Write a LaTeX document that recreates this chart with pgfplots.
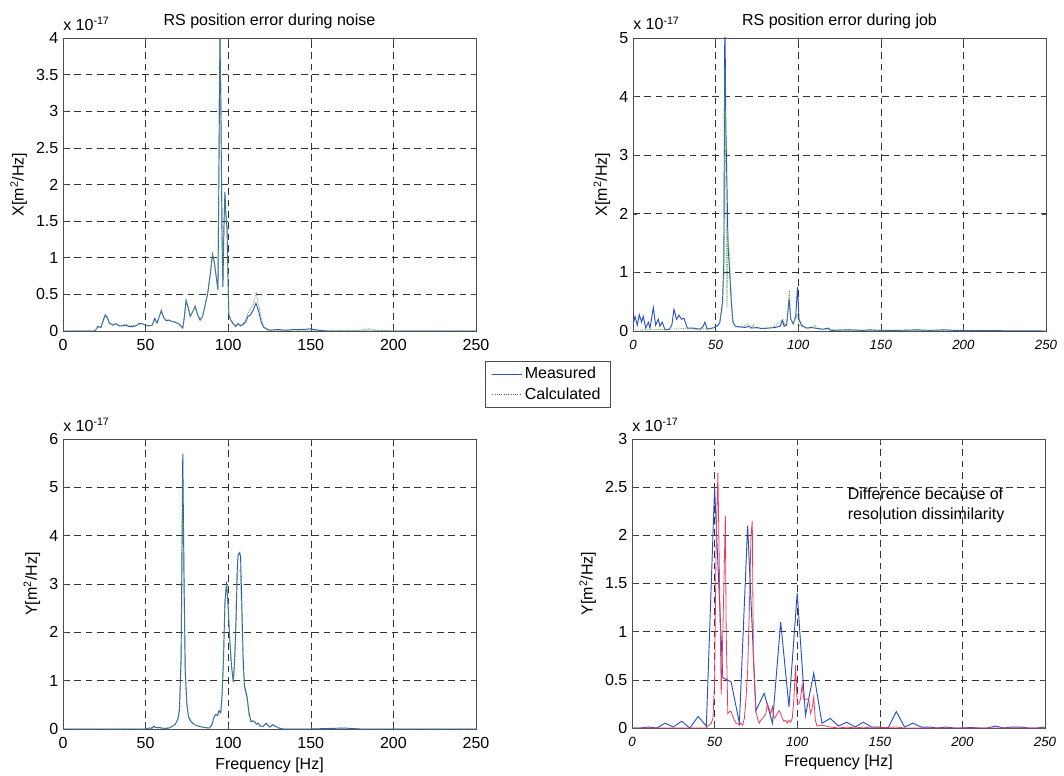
\documentclass[border=0pt]{standalone}
\usepackage{pgfplots}
\pgfplotsset{compat=1.18}
\usepackage{fontspec}
\setmainfont{Liberation Sans}

\definecolor{mblue}{RGB}{40,80,200}
\definecolor{cgreen}{RGB}{90,170,70}
\definecolor{cred}{RGB}{235,60,90}

\pgfplotsset{
  panel/.style={
    scale only axis,
    width=309.75pt,
    xmin=0, xmax=250,
    xtick={0,50,...,250},
    scaled ticks=false,
    /pgf/number format/assume math mode=true,
    grid=major,
    grid style={black!80, line width=0.45pt, dash pattern=on 5pt off 3.5pt},
    axis line style={black!70, line width=0.5pt},
    tick align=inside,
    major tick length=3pt,
    every tick/.style={black!70},
    xticklabel style={yshift=-3pt},
    title style={yshift=-3pt},
  },
  meas/.style={mblue, line width=0.7pt, forget plot},
  calc/.style={cgreen, line width=0.7pt, densely dotted, forget plot},
  calcr/.style={cred, line width=0.6pt, forget plot},
  exponent/.style={extra description/.code={
    \node[anchor=base west, inner sep=0pt] at ([yshift=6pt]0,1) {x 10\textsuperscript{-17}};}},
}

\begin{document}
\begin{tikzpicture}[font=\fontsize{12}{15}\selectfont]
\useasboundingbox (0,0) rectangle (798pt,581.25pt);

% top left: noise, X
\begin{axis}[panel, exponent,
  at={(47.25pt,333pt)}, anchor=south west,
  height=219.75pt,
  ymin=0, ymax=4, ytick={0,0.5,...,4},
  title={RS position error during noise},
  ylabel={X[m\textsuperscript{2}/Hz]},
  legend style={at={(1.0218,-0.1024)}, anchor=north west, draw=black!70,
    inner xsep=5pt, inner ysep=2.5pt, row sep=1pt, font=\fontsize{12}{14}\selectfont},
  legend cell align=left,
  legend image code/.code={\draw[#1] (0pt,0pt) -- (22pt,0pt);},
]
\addplot[meas] coordinates {
 (0,0) (19,0) (20,0.02) (21,0.06) (23,0.05) (24,0.12) (25.5,0.22) (27,0.18) (28,0.11)
 (30,0.08) (32,0.1) (34,0.07) (36,0.07) (38,0.08) (40,0.06) (42,0.06) (44,0.07) (46,0.1)
 (48,0.1) (50,0.08) (52,0.07) (54,0.08) (55.5,0.17) (57,0.11) (58,0.18) (59.5,0.28)
 (61,0.18) (62.5,0.14) (64,0.15) (66,0.13) (68,0.12) (70,0.1) (72.5,0.04) (73.5,0.2)
 (74.5,0.42) (76,0.3) (77,0.2) (78.5,0.26) (80,0.34) (81.5,0.22) (83,0.15) (84.5,0.2)
 (86,0.35) (87.5,0.5) (89,0.75) (90.5,1.05) (91.5,0.95) (93,0.7) (93.8,0.56) (94.5,2.5)
 (95,4.1) (95.6,3.0) (96.3,1.2) (96.8,0.6) (97.4,1.4) (98,1.9) (98.6,1.6) (99.3,1.4)
 (99.8,0.8) (100.4,0.22) (101.5,0.15) (103,0.1) (104.5,0.06) (106,0.1) (107.5,0.07)
 (109,0.09) (110.5,0.12) (112,0.2) (113.5,0.22) (115,0.28) (116.8,0.38) (118,0.3)
 (119,0.22) (120,0.12) (121.5,0.05) (123,0.03) (125,0.01) (130,0.02) (135,0.01)
 (140,0.02) (145,0.02) (150,0.03) (152,0.02) (155,0.01) (160,0) (250,0)
};
\addplot[calc] coordinates {
 (0,0) (19,0) (20,0.02) (21,0.05) (23,0.06) (24,0.12) (25.5,0.2) (27,0.17) (28,0.1)
 (30,0.09) (32,0.1) (34,0.08) (36,0.08) (38,0.09) (40,0.08) (42,0.07) (44,0.08) (46,0.09)
 (48,0.1) (50,0.08) (52,0.07) (54,0.08) (55.5,0.14) (57,0.12) (58,0.18) (59.5,0.26)
 (61,0.18) (62.5,0.15) (64,0.15) (66,0.13) (68,0.12) (70,0.1) (72.5,0.05) (73.5,0.2)
 (74.5,0.4) (76,0.3) (77,0.21) (78.5,0.26) (80,0.33) (81.5,0.22) (83,0.15) (84.5,0.2)
 (86,0.35) (87.5,0.5) (89,0.75) (90.5,1.03) (91.5,0.95) (93,0.7) (93.8,0.56) (94.4,2.6)
 (94.9,4.2) (95.6,3.2) (96.3,1.3) (96.8,0.6) (97.4,1.4) (98,1.85) (98.6,1.6) (99.3,1.4)
 (99.8,0.8) (100.4,0.22) (101.5,0.15) (103,0.1) (104.5,0.07) (106,0.1) (107.5,0.08)
 (109,0.1) (110.5,0.15) (112,0.25) (113.5,0.3) (115,0.36) (117,0.53) (118,0.4)
 (119,0.3) (120,0.15) (122,0.05) (124,0.02) (126,0.01) (140,0.01) (160,0.01)
 (180,0.01) (185,0.03) (190,0.01) (200,0) (250,0)
};
\addlegendimage{mblue, line width=0.6pt}
\addlegendentry{Measured}
\addlegendimage{black!65, line width=0.7pt, densely dotted}
\addlegendentry{Calculated\hspace{7pt}}
\end{axis}

% top right: job, X
\begin{axis}[panel, exponent,
  at={(474.75pt,333pt)}, anchor=south west,
  height=219.75pt,
  ymin=0, ymax=5, ytick={0,1,...,5},
  xticklabel style={font=\itshape},
  title={RS position error during job},
  ylabel={X[m\textsuperscript{2}/Hz]},
]
\addplot[meas] coordinates {
 (0,0.1) (1.2,0.25) (2.6,0.1) (3.8,0.28) (5.2,0.15) (6.2,0.25) (7.7,0.05) (9.3,0.15)
 (10.3,0.05) (12.3,0.4) (13.7,0.1) (15.3,0.2) (16.3,0.08) (17.7,0.15) (19.4,0.02)
 (22,0.03) (23.5,0.1) (24.8,0.37) (26.4,0.2) (27.8,0.27) (29.4,0.2) (30.8,0.22)
 (32.9,0.05) (36.5,0.05) (40.5,0.03) (42.5,0.08) (43.5,0.15) (45,0.03) (49.6,0.06)
 (51.5,0.1) (52.6,0.15) (54.2,0.5) (55,1.2) (55.6,5.5) (56.2,3.5) (56.8,2.6) (57.5,1.5)
 (58.5,1.0) (59.5,0.5) (60.5,0.15) (62,0.08) (65,0.07) (68,0.06) (70,0.08) (72,0.05)
 (75,0.06) (78,0.04) (82,0.05) (86,0.06) (89,0.08) (90.5,0.18) (91.5,0.08) (93,0.1)
 (94.5,0.55) (95.5,0.2) (97,0.12) (98.5,0.25) (99.6,0.75) (100.5,0.2) (102,0.1)
 (105,0.05) (108,0.06) (110,0.05) (115,0.03) (118,0.05) (120,0.01) (130,0.02)
 (140,0.01) (143,0.02) (150,0.01) (160,0.01) (172,0.02) (180,0.01) (188,0.02)
 (195,0.01) (250,0)
};
\addplot[calc] coordinates {
 (0,0.02) (10,0.02) (20,0.03) (30,0.04) (40,0.03) (48,0.05) (52,0.1) (54,0.4) (55,1.0)
 (55.6,4.5) (56.4,2.0) (56.9,0.4) (57.4,1.6) (58.3,1.3) (59.3,0.7) (60.3,0.2) (61.5,0.08)
 (65,0.06) (70,0.12) (71,0.05) (73,0.1) (74,0.05) (80,0.05) (85,0.06) (90.5,0.2)
 (92,0.1) (93.5,0.2) (94.6,0.7) (95.5,0.2) (97,0.15) (98.5,0.2) (99.5,0.3) (100.5,0.1)
 (105,0.05) (108,0.05) (110,0.1) (112,0.03) (120,0.02) (130,0.01) (250,0)
};
\end{axis}

% bottom left: noise, Y
\begin{axis}[panel, exponent,
  at={(47.25pt,34.5pt)}, anchor=south west,
  height=217.5pt,
  ymin=0, ymax=6, ytick={0,1,...,6},
  xlabel={Frequency [Hz]},
  ylabel={Y[m\textsuperscript{2}/Hz]},
]
\addplot[meas] coordinates {
 (0,0) (50,0) (52,0.02) (54,0.02) (55,0.06) (56,0.03) (58,0.03) (60,0.02) (62,0.01)
 (64,0.02) (66,0.05) (68,0.1) (69.5,0.2) (70.5,0.4) (71.5,1.5) (72.5,5.7) (73.3,3.0)
 (74,1.2) (75,0.5) (76,0.25) (77.5,0.15) (80,0.08) (83,0.05) (86,0.03) (88.5,0.02)
 (90,0.08) (91.5,0.25) (92.5,0.3) (93.5,0.28) (94.5,0.38) (95.5,0.33) (96.3,0.7)
 (97.2,1.5) (98,2.6) (99,3.05) (100,2.5) (101,1.8) (102,1.3) (103.1,0.97) (104,1.5)
 (104.7,2.2) (105.5,3.3) (106,3.6) (107,3.65) (107.5,3.55) (108.3,2.5) (109,1.5)
 (109.8,0.9) (110.5,0.8) (111.5,0.65) (112.5,0.35) (113.8,0.15) (115,0.17) (116,0.15)
 (117,0.1) (118,0.12) (119.5,0.06) (121,0.05) (123,0.12) (124,0.08) (125.2,0.04)
 (127,0.09) (128.5,0.06) (130.5,0.02) (133.5,0) (150,0) (160,0.01) (170,0.02)
 (175,0.01) (180,0) (250,0)
};
\addplot[calc] coordinates {
 (0,0) (50,0) (52,0.01) (55,0.04) (58,0.02) (62,0.01) (66,0.05) (68,0.1) (69.5,0.2)
 (70.5,0.4) (71.5,1.4) (72.5,5.2) (73.3,2.8) (74,1.1) (75,0.5) (76,0.25) (77.5,0.15)
 (80,0.08) (83,0.05) (86,0.03) (88.5,0.02) (90,0.08) (91.5,0.25) (92.5,0.3) (93.5,0.28)
 (94.5,0.36) (95.5,0.33) (96.3,0.7) (97.2,1.5) (98,2.6) (99,3.0) (100,2.5) (101,1.8)
 (102,1.3) (103.1,0.97) (104,1.5) (104.5,2.0) (105.2,3.2) (106,3.25) (107.3,3.3)
 (108.2,2.3) (109,1.3) (109.8,0.85) (110.5,0.75) (111.5,0.6) (112.5,0.3) (113.8,0.15)
 (115,0.16) (116,0.14) (117,0.1) (118,0.1) (119.5,0.05) (121,0.05) (123,0.1) (124,0.07)
 (125.2,0.04) (127,0.07) (128.5,0.05) (130.5,0.02) (133.5,0) (250,0)
};
\end{axis}

% bottom right: job, Y
\begin{axis}[panel, exponent,
  at={(474pt,35.25pt)}, anchor=south west,
  height=216.75pt,
  ymin=0, ymax=3, ytick={0,0.5,...,3},
  xticklabel style={font=\itshape},
  xlabel={Frequency [Hz]},
  ylabel={Y[m\textsuperscript{2}/Hz]},
]
\addplot[meas] coordinates {
 (0,0) (5,0) (10,0.01) (15,0) (20,0.05) (25,0.01) (30,0.07) (35,0) (40,0.12) (45,0.02)
 (50,2.5) (51,2.1) (55,0.52) (60,0.48) (65,0.05) (70,2.1) (75,0.18) (80,0.36) (85,0.05)
 (90,1.1) (95,0.22) (100,1.4) (105,0.13) (110,0.57) (115,0.05) (120,0.1) (125,0.02)
 (130,0.06) (135,0.01) (140,0.06) (145,0.01) (150,0.01) (155,0) (160,0.17) (165,0.01)
 (170,0.05) (175,0.01) (180,0.01) (185,0) (190,0.01) (195,0) (200,0) (205,0.005)
 (210,0) (215,0) (220,0.02) (225,0) (230,0.01) (235,0.01) (240,0) (245,0) (250,0.01)
};
\addplot[calcr] coordinates {
 (0,0) (45,0) (46,0.02) (48,0.05) (49,0.1) (50,0.5) (51,2.0) (52,2.65) (53,1.5)
 (54,0.35) (55,1.0) (56.5,2.2) (57,1.0) (58,0.15) (59,0.17) (60,0.17) (61,0.12)
 (62,0.08) (63,0.05) (64,0.05) (65,0.03) (66,0.05) (67,0.03) (68,0.1) (69,0.3) (70,0.6)
 (71,1.2) (72,2.0) (72.8,2.15) (73.5,0.7) (75,0.17) (76,0.1) (77,0.05) (78,0.08)
 (79,0.1) (80,0.12) (81,0.15) (82,0.25) (83,0.2) (84,0.15) (85,0.22) (86,0.1) (87,0.12)
 (88,0.15) (89,0.18) (90,0.15) (91,0.1) (92,0.07) (93,0.08) (94,0.05) (95,0.08)
 (96,0.06) (97,0.1) (98,0.3) (99,0.65) (100,0.25) (101,0.25) (102,0.3) (103,0.45)
 (104,0.3) (105,0.3) (106,0.3) (107,0.3) (108,0.15) (109,0.2) (110,0.32) (111,0.08)
 (112,0.02) (115,0.03) (120,0.01) (125,0) (130,0.01) (135,0) (140,0.01) (145,0)
 (160,0.01) (165,0) (250,0)
};
\node[anchor=north west, align=left, inner sep=0pt] at (axis cs:130.5,2.5)
  {Difference because of\\resolution dissimilarity};
\end{axis}
\end{tikzpicture}
\end{document}
